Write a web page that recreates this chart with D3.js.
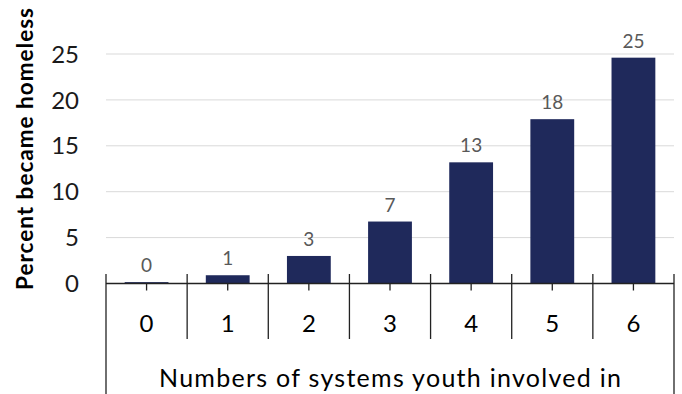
<!DOCTYPE html>
<html lang="en">
<head>
  <meta charset="utf-8">
    <title>D3: Percent became homeless</title>
    <script type="text/javascript" src="https://d3js.org/d3.v7.min.js"></script>

    <style type="text/css">
      body { margin: 0; background: #fff; }
      text { font-family: Lato, "Open Sans", sans-serif; }
    </style>
</head>
<body>
  <script type="text/javascript">

        var categories = ["0", "1", "2", "3", "4", "5", "6"];
        var values = [0.15, 0.9, 3.0, 6.75, 13.2, 17.9, 24.6];
        var valueLabels = ["0", "1", "3", "7", "13", "18", "25"];
        var yTicks = [0, 5, 10, 15, 20, 25];

        var width = 682, height = 394;
        var plotLeft = 106, plotRight = 674, plotBase = 283.5, plotTop = 54;

        var svg = d3.select("body")
            .append("svg")
            .attr("width", width)
            .attr("height", height);

        var x = d3.scaleBand()
            .domain(categories)
            .range([plotLeft, plotRight])
            .paddingInner(0.46)
            .paddingOuter(0.23);

        var y = d3.scaleLinear()
            .domain([0, 25])
            .range([plotBase, plotTop]);

        // gridlines
        svg.selectAll(".grid")
            .data(yTicks.slice(1))
            .enter()
            .append("line")
            .attr("x1", plotLeft)
            .attr("x2", plotRight)
            .attr("y1", function(d) { return y(d); })
            .attr("y2", function(d) { return y(d); })
            .attr("stroke", "#d9d9d9")
            .attr("stroke-width", 1);

        // y tick labels
        svg.selectAll(".ylab")
            .data(yTicks)
            .enter()
            .append("text")
            .attr("x", 79)
            .attr("y", function(d) { return y(d); })
            .attr("dy", "0.36em")
            .attr("text-anchor", "end")
            .attr("font-size", 24)
            .attr("fill", "#1a1a1a")
            .text(function(d) { return d; });

        // bars
        svg.selectAll(".bar")
            .data(values)
            .enter()
            .append("rect")
            .attr("x", function(d, i) { return x(categories[i]); })
            .attr("y", function(d) { return y(d); })
            .attr("width", x.bandwidth())
            .attr("height", function(d) { return plotBase - y(d); })
            .attr("fill", "#1f295b");

        // value labels
        svg.selectAll(".vlab")
            .data(values)
            .enter()
            .append("text")
            .attr("x", function(d, i) { return x(categories[i]) + x.bandwidth() / 2; })
            .attr("y", function(d) { return y(d) - 10; })
            .attr("text-anchor", "middle")
            .attr("font-size", 19)
            .attr("fill", "#595959")
            .text(function(d, i) { return valueLabels[i]; });

        // baseline
        svg.append("line")
            .attr("x1", plotLeft)
            .attr("x2", plotRight)
            .attr("y1", plotBase)
            .attr("y2", plotBase)
            .attr("stroke", "#222")
            .attr("stroke-width", 1.3);

        // category separators
        var step = x.step();
        var edges = d3.range(categories.length + 1);
        svg.selectAll(".sep")
            .data(edges)
            .enter()
            .append("line")
            .attr("x1", function(d) { return plotLeft + d * step; })
            .attr("x2", function(d) { return plotLeft + d * step; })
            .attr("y1", 274)
            .attr("y2", function(d) {
                return (d === 0 || d === categories.length) ? height : 339;
            })
            .attr("stroke", "#222")
            .attr("stroke-width", 1.3);

        // small ticks at category centres
        svg.selectAll(".tick")
            .data(categories)
            .enter()
            .append("line")
            .attr("x1", function(d) { return x(d) + x.bandwidth() / 2; })
            .attr("x2", function(d) { return x(d) + x.bandwidth() / 2; })
            .attr("y1", plotBase)
            .attr("y2", plotBase + 7)
            .attr("stroke", "#222")
            .attr("stroke-width", 1.3);

        // x tick labels
        svg.selectAll(".xlab")
            .data(categories)
            .enter()
            .append("text")
            .attr("x", function(d) { return x(d) + x.bandwidth() / 2; })
            .attr("y", 332)
            .attr("text-anchor", "middle")
            .attr("font-size", 24)
            .attr("fill", "#000")
            .text(function(d) { return d; });

        // x axis title
        svg.append("text")
            .attr("x", (plotLeft + plotRight) / 2)
            .attr("y", 387)
            .attr("text-anchor", "middle")
            .attr("font-size", 25)
            .attr("textLength", 462)
            .attr("lengthAdjust", "spacing")
            .attr("fill", "#000")
            .text("Numbers of systems youth involved in");

        // y axis title
        svg.append("text")
            .attr("transform", "translate(33,149) rotate(-90)")
            .attr("text-anchor", "middle")
            .attr("font-size", 22.5)
            .attr("font-weight", "bold")
            .attr("textLength", 282)
            .attr("lengthAdjust", "spacing")
            .attr("fill", "#000")
            .text("Percent became homeless");

  </script>
</body>
</html>
